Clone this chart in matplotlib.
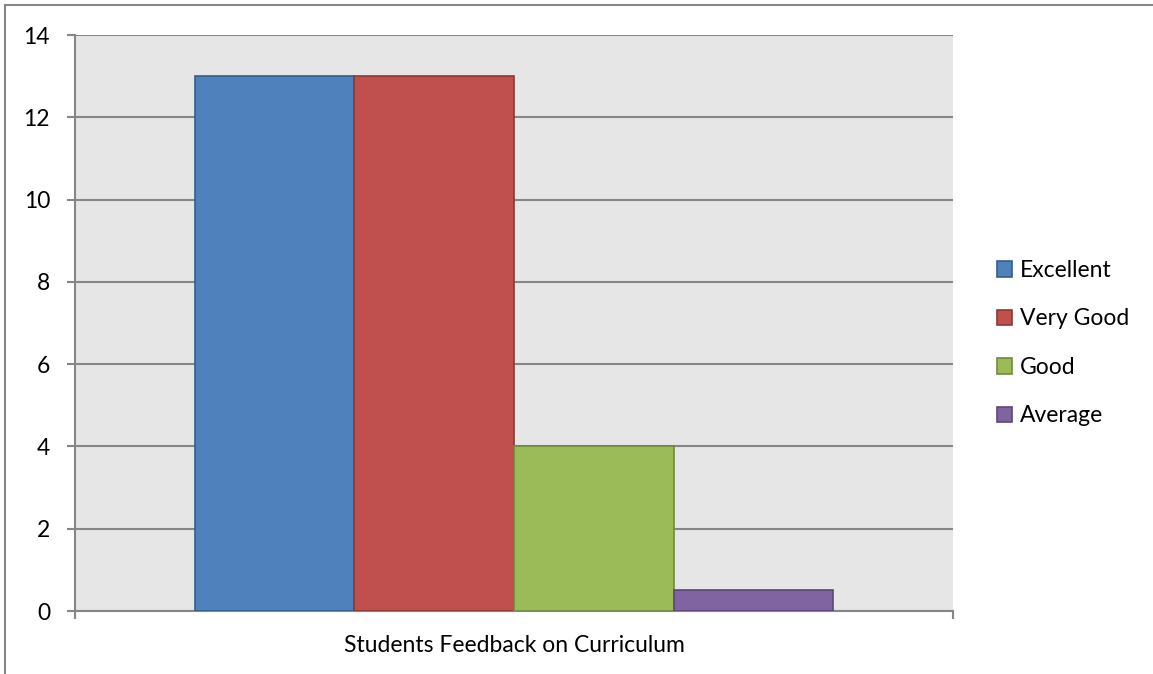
import matplotlib.pyplot as plt
from matplotlib.lines import Line2D

# data
labels = ['Excellent', 'Very Good', 'Good', 'Average']
values = [13, 13, 4, 0.5]
colors = ['#4F81BD', '#C0504D', '#9BBB59', '#8064A2']
edges = ['#385D8A', '#8C3836', '#71893F', '#5C4776']
category = 'Students Feedback on Curriculum'

plt.rcParams['font.family'] = ['Lato', 'DejaVu Sans']

fig = plt.figure(figsize=(11.53, 6.74), dpi=100)
ax = fig.add_axes([75/1153, 1 - 611/674, 878/1153, 576/674])
ax.set_facecolor('#E6E6E6')

# one category, four bars, gap width 150%
w = 1 / 5.5
start = 0.75 * w
for i, (lab, v) in enumerate(zip(labels, values)):
    ax.bar(start + i * w, v, width=w, align='edge', color=colors[i],
           edgecolor=edges[i], linewidth=1.2, label=lab, zorder=3)

ax.set_xlim(0, 1)
ax.set_ylim(0, 14)
ax.set_yticks(range(0, 15, 2))
ax.yaxis.grid(True, color='#868686', linewidth=1.5, zorder=1)
ax.set_axisbelow(True)

ax.set_xticks([0.5])
ax.set_xticklabels([category])
ax.set_xticks([0, 1], minor=True)
ax.tick_params(axis='x', which='major', length=0, pad=17, labelsize=16.5)
ax.tick_params(axis='x', which='minor', length=6, width=1.5, color='#868686')
ax.tick_params(axis='y', length=6, width=1.5, color='#868686', pad=12, labelsize=16.5)

for s in ['top', 'right']:
    ax.spines[s].set_visible(False)
for s in ['left', 'bottom']:
    ax.spines[s].set_color('#868686')
    ax.spines[s].set_linewidth(1.5)

leg = ax.legend(loc='center left', bbox_to_anchor=(1.027, 0.465), frameon=False,
                fontsize=16.5, handlelength=0.65, handleheight=0.65,
                handletextpad=0.35, labelspacing=1.2)

# outer chart border (top and left only visible)
fig.add_artist(Line2D([5/1153, 1], [1 - 5/674, 1 - 5/674], color='#868686', linewidth=1.5))
fig.add_artist(Line2D([5/1153, 5/1153], [0, 1 - 5/674], color='#868686', linewidth=1.5))

fig.savefig('out.png', dpi=100)
